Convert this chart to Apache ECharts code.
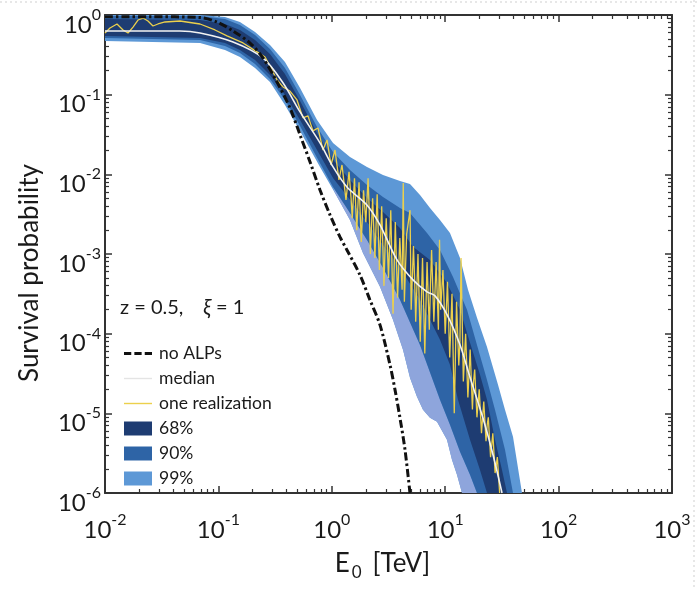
<!DOCTYPE html>
<html><head><meta charset="utf-8">
<script src="https://cdn.jsdelivr.net/npm/echarts@6/dist/echarts.min.js"></script>
<style>html,body{margin:0;padding:0;background:#fff}#c{width:697px;height:590px}</style>
</head><body><div id="c"></div>
<script>
const FONT = 'Lato';
const xTickExponents = ['-2','-1','0','1','2','3'];
const yTickExponents = ['0','-1','-2','-3','-4','-5','-6'];

// no ALPs
const noAlpE = [0.01,0.0249,0.0689,0.0973,0.1346,0.190,0.247,0.329,0.428,0.525,0.643,0.787,0.964,1.18,1.36,1.77,2.17,2.66,3.26,3.61,3.99,4.42,4.89];
const noAlpP = [0.95,0.95,0.93,0.817,0.63,0.445,0.289,0.144,0.068,0.0312,0.0143,0.00637,0.0031,0.00164,0.001125,0.000547,0.000265,0.000129,0.0000406,0.0000197,0.0000088,0.0000035,0.000001];

// median
const medE = [0.01,0.0458,0.0689,0.1346,0.247,0.372,0.525,0.787,1.026,1.36,2.04,2.66,3.76,5.20,6.92,8.13,10.4,13.5,16.6,21.5,26.4,31.7];
const medP = [0.63,0.63,0.594,0.458,0.289,0.140,0.0607,0.0248,0.0124,0.00695,0.00413,0.00232,0.000843,0.000473,0.000334,0.000298,0.000172,0.0000724,0.0000279,0.00000878,0.00000302,0.000001];

// one realization
const realE = [0.01,0.01107,0.01276,0.01442,0.01596,0.01766,0.01954,0.02163,0.02393,0.02649,0.02931,0.03381,0.04581,0.06887,0.0933,0.1191,0.1648,0.2188,0.2576,0.2911,0.3289,0.3715,0.4276,0.4932,0.5572,0.6166,0.6823,0.7551,0.8356,0.9078,0.984,1.067,1.156,1.230,1.334,1.419,
 1.445,1.479,1.514,1.585,1.660,1.738,1.820,1.905,1.995,2.089,2.138,2.188,2.291,2.399,2.512,2.630,2.754,2.884,2.951,3.020,3.162,3.311,3.467,3.631,3.715,3.802,3.981,4.169,4.266,4.365,4.571,4.898,5.012,5.248,5.370,5.495,5.754,6.026,6.310,6.607,6.918,7.244,7.413,7.586,7.943,8.318,8.710,8.913,9.120,9.550,
 10,10.23,10.47,10.96,11.48,12.02,12.59,13.18,13.49,13.80,14.45,15.14,15.85,16.60,17.38,17.78,18.20,19.05,19.95,20.89,21.88,22.91,23.44,23.99,25.12,26.30,27.54,28.84,30.20];
const realP = [0.594,0.687,0.771,0.649,0.594,0.706,0.865,0.916,0.841,0.728,0.771,0.817,0.841,0.771,0.649,0.546,0.446,0.344,0.297,0.216,0.153,0.125,0.111,0.0859,0.0511,0.0541,0.0351,0.0382,0.0202,0.0270,0.0131,0.0202,0.00851,0.0131,0.00478,0.01074,
 0.01122,0.005012,0.002818,0.008913,0.001995,0.007943,0.001413,0.006310,0.002512,0.008913,0.003548,0.001,0.005012,0.000891,0.005623,0.000631,0.003981,0.000398,0.001259,0.002818,0.000501,0.003548,0.000178,0.002512,0.000794,0.000282,0.001585,0.000355,0.00776,0.000251,0.001778,0.003548,0.000200,0.001259,0.000501,0.000141,0.001,0.0000794,0.000891,0.0000562,0.000794,0.000112,0.000398,0.001122,0.000141,0.000794,0.000112,0.001514,0.000200,0.000631,
 0.0001,0.0002,0.000447,0.0000501,0.000316,0.00001,0.000251,0.0000398,0.0000794,0.000891,0.0000251,0.0001,0.0000158,0.0000631,0.0000112,0.0000251,0.0000355,0.00000891,0.00002,0.00000562,0.0000141,0.00000447,0.00000708,0.00000891,0.00000282,0.00000562,0.00000178,0.00000282,0.000001];

// confidence band edges
const u99E = [0.01,0.0689,0.1143,0.1549,0.2104,0.2851,0.3864,0.5248,0.7413,1.025,1.447,2.044,2.828,3.994,4.893,5.995,7.345,8.997,11.02,13.51,15.89,19.07,23.37,29.22,33.68,39.62,47.56];
const u99P = [1.0,1.0,0.944,0.817,0.612,0.421,0.257,0.121,0.0482,0.0248,0.0165,0.0124,0.00982,0.00826,0.00758,0.00552,0.00379,0.00268,0.00184,0.000893,0.000355,0.000158,0.0000682,0.0000228,0.0000111,0.00000507,0.000001];
const u90E = [0.01,0.0689,0.1143,0.1549,0.2104,0.2851,0.3864,0.5248,0.7413,1.025,1.447,2.044,2.828,3.994,4.893,6.911,8.997,11.72,15.57,19.07,23.37,27.49,33.68,39.62];
const u90P = [0.972,0.972,0.891,0.749,0.561,0.375,0.216,0.0991,0.0393,0.0191,0.01135,0.00736,0.00520,0.00379,0.00328,0.00184,0.00112,0.000516,0.000199,0.0000723,0.0000263,0.0000111,0.00000348,0.000001];
const u68E = [0.01,0.0689,0.1143,0.1549,0.2104,0.2851,0.3864,0.5248,0.7413,1.025,1.447,2.044,2.828,3.994,5.200,7.345,10.37,13.51,16.55,20.27,23.37,27.49,31.69,35.08];
const u68P = [0.891,0.866,0.771,0.649,0.486,0.324,0.182,0.0834,0.0331,0.0152,0.00851,0.00506,0.00337,0.00212,0.00123,0.000843,0.000434,0.000199,0.0000767,0.0000304,0.0000148,0.00000466,0.00000195,0.000001];
const l68E = [0.01,0.0689,0.1143,0.1549,0.2104,0.2851,0.3864,0.5248,0.7413,1.025,1.447,2.044,2.828,3.994,5.995,8.997,11.02,12.97,16.55,20.27,23.37];
const l68P = [0.545,0.515,0.446,0.364,0.272,0.177,0.0991,0.0482,0.0202,0.00901,0.00478,0.00253,0.00130,0.000670,0.000266,0.0000836,0.0000406,0.0000148,0.00000466,0.00000195,0.000001];
const l90E = [0.01,0.0689,0.1143,0.1549,0.2104,0.2851,0.3864,0.5248,0.7413,1.025,1.447,2.044,2.828,3.994,5.995,8.997,11.02,13.51,16.55,19.07];
const l90P = [0.515,0.486,0.409,0.334,0.243,0.157,0.0858,0.0405,0.0161,0.00695,0.00328,0.00150,0.000670,0.000266,0.0000723,0.0000148,0.00000718,0.00000329,0.00000169,0.000001];
const l99E = [0.01,0.0689,0.1143,0.1549,0.2104,0.2851,0.3864,0.5248,0.7870,1.067,1.447,1.884,2.661,3.465,4.246,4.893,5.640,6.372,7.345,8.469,10.37,11.48,12.71,14.07];
const l99P = [0.472,0.446,0.364,0.297,0.216,0.144,0.0743,0.0351,0.0124,0.00585,0.00268,0.00103,0.000387,0.000149,0.0000627,0.0000279,0.0000161,0.0000111,0.00000879,0.00000782,0.00000466,0.00000261,0.00000169,0.000001];

const C68 = '#1e3c72', C90 = '#2e64a6', C99 = '#5d98d6', CLOW = '#8ea5dc';
const CYEL = '#ecd04c', CMED = '#f2f2f2', CNO = '#111';

function pts(E, P) { return E.map((e, i) => [e, P[i]]); }

function band(name, upE, upP, loE, loP, color, z, minE) {
  return {
    type: 'custom', name: name, coordinateSystem: 'cartesian2d', z: z, silent: true,
    itemStyle: { color: color },
    data: [[upE[0], upP[0]]],
    renderItem: function (params, api) {
      const poly = [];
      for (let i = 0; i < upE.length; i++) if (upE[i] >= minE) poly.push(api.coord([upE[i], upP[i]]));
      for (let i = loE.length - 1; i >= 0; i--) if (loE[i] >= minE) poly.push(api.coord([loE[i], loP[i]]));
      const cs = params.coordSys;
      return { type: 'polygon', shape: { points: poly }, style: { fill: color },
        clipPath: { type: 'rect', shape: { x: cs.x, y: cs.y, width: cs.width, height: cs.height } } };
    }
  };
}

const axisCol = '#333';
const labelRich = {
  b: { fontSize: 24, fontFamily: FONT, color: '#1a1a1a', lineHeight: 30, verticalAlign: 'bottom' },
  s: { fontSize: 16, fontFamily: FONT, color: '#1a1a1a', lineHeight: 16, verticalAlign: 'top' }
};
function xAx(pos, showLab) {
  return {
    type: 'log', logBase: 10, min: 0.01, max: 1000, splitNumber: 5, position: pos,
    axisLine: { show: true, onZero: false, lineStyle: { color: axisCol, width: 2 } },
    axisTick: { show: true, inside: true, length: 7, lineStyle: { color: axisCol, width: 1.5 } },
    minorTick: { show: true, splitNumber: 9, length: 4, lineStyle: { color: axisCol, width: 1.2 } },
    splitLine: { show: false }, minorSplitLine: { show: false },
    axisLabel: { show: showLab, margin: 19, formatter: function (v) {
      const e = Math.round(Math.log10(v)); return '{b|10}{s|' + xTickExponents[e + 2] + '}'; }, rich: labelRich },
    name: showLab ? '{a|E}{u|0}{a|[TeV]}' : '', nameLocation: 'middle', nameGap: 58,
    nameTextStyle: { padding: [0, 12, 0, 0], rich: { a: { fontSize: 26, fontFamily: FONT, color: '#1a1a1a', lineHeight: 30, verticalAlign: 'top' },
      u: { fontSize: 17, fontFamily: FONT, color: '#1a1a1a', lineHeight: 17, padding: [14, 11, 0, 2], verticalAlign: 'bottom' } } }
  };
}
function yAx(pos, showLab) {
  return {
    type: 'log', logBase: 10, min: 0.000001, max: 1, splitNumber: 6, position: pos,
    axisLine: { show: true, onZero: false, lineStyle: { color: axisCol, width: 2 } },
    axisTick: { show: true, inside: true, length: 7, lineStyle: { color: axisCol, width: 1.5 } },
    minorTick: { show: true, splitNumber: 9, length: 4, lineStyle: { color: axisCol, width: 1.2 } },
    splitLine: { show: false }, minorSplitLine: { show: false },
    axisLabel: { show: showLab, margin: 4, padding: [14, 0, 0, 0], formatter: function (v) {
      const e = Math.round(Math.log10(v)); return '{b|10}{s|' + yTickExponents[-e] + '}'; }, rich: labelRich },
    name: showLab ? 'Survival probability' : '', nameLocation: 'middle', nameGap: 62,
    nameTextStyle: { fontSize: 26, fontFamily: FONT, color: '#1a1a1a', padding: [0, 38, 0, 0] }
  };
}

const chart = echarts.init(document.getElementById('c'), null, { renderer: 'canvas' });
chart.setOption({
  animation: false,
  backgroundColor: '#fff',
  grid: { left: 105, right: 25, top: 15, bottom: 97, containLabel: false },
  xAxis: [xAx('bottom', true), xAx('top', false)],
  yAxis: [yAx('left', true), yAx('right', false)],
  title: {
    text: '{t|z = 0.5,}    {i|ξ}{t| = 1}', left: 115, top: 292,
    textStyle: { fontWeight: 'normal', rich: { t: { fontSize: 20, fontWeight: 'normal', fontFamily: FONT, color: '#1a1a1a' }, i: { fontSize: 21, fontWeight: 'normal', fontFamily: FONT, fontStyle: 'italic', color: '#1a1a1a' } } }
  },
  legend: {
    orient: 'vertical', left: 119, top: 336, itemWidth: 28, itemHeight: 14, itemGap: 0, selectedMode: false,
    textStyle: { fontSize: 17.5, fontFamily: FONT, color: '#1a1a1a', lineHeight: 25, padding: [0, 0, 0, 2] },
    data: [
      { name: 'no ALPs', icon: 'path://M0,0h7v3h-7z M10,0h7v3h-7z M20,0h7v3h-7z' },
      { name: 'median', icon: 'path://M0,0h28v1.4h-28z', itemStyle: { color: '#e4e4e4' } },
      { name: 'one realization', icon: 'path://M0,0h28v1.4h-28z' },
      { name: '68%', icon: 'rect' }, { name: '90%', icon: 'rect' }, { name: '99%', icon: 'rect' } ]
  },
  graphic: [
    { type: 'line', shape: { x1: 0, y1: 2, x2: 697, y2: 2 }, style: { stroke: '#cfcfcf', lineDash: [2, 3], lineWidth: 1 } },
    { type: 'line', shape: { x1: 694, y1: 0, x2: 694, y2: 590 }, style: { stroke: '#cfcfcf', lineDash: [2, 3], lineWidth: 1 } }
  ],
  series: [
    band('99%', u99E, u99P, l99E, l99P, C99, 1, 0),
    band('99% lower', l90E, l90P, l99E, l99P, CLOW, 2, 1.0),
    band('90%', u90E, u90P, l90E, l90P, C90, 3, 0),
    band('68%', u68E, u68P, l68E, l68P, C68, 4, 0),
    { type: 'line', name: 'one realization', data: pts(realE, realP), showSymbol: false, symbol: 'none', z: 5,
      lineStyle: { color: CYEL, width: 1.3 }, itemStyle: { color: CYEL } },
    { type: 'line', name: 'median', data: pts(medE, medP), showSymbol: false, symbol: 'none', smooth: 0.3, z: 6,
      lineStyle: { color: CMED, width: 1.6 }, itemStyle: { color: '#e4e4e4' } },
    { type: 'line', name: 'no ALPs', data: pts(noAlpE, noAlpP), showSymbol: false, symbol: 'none', smooth: 0.3, z: 7,
      lineStyle: { color: CNO, width: 3, type: [8, 3, 2.5, 3] }, itemStyle: { color: CNO } }
  ]
});
</script></body></html>
